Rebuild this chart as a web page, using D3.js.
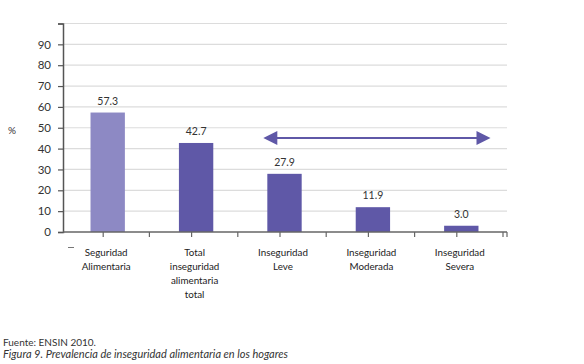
<!DOCTYPE html>
<html><head><meta charset="utf-8">
<script src="https://cdn.jsdelivr.net/npm/d3@7"></script>
<style>body{margin:0;background:#fff}svg{display:block}text{font-family:Lato,"Noto Sans",sans-serif}</style>
</head><body><svg id="c" width="584" height="364"></svg>
<script>
const categories = ["Seguridad Alimentaria", "Total inseguridad alimentaria total", "Inseguridad Leve", "Inseguridad Moderada", "Inseguridad Severa"];
const labelLines = [["Seguridad","Alimentaria"],["Total","inseguridad","alimentaria","total"],["Inseguridad","Leve"],["Inseguridad","Moderada"],["Inseguridad","Severa"]];
const values = [57.3, 42.7, 27.9, 11.9, 3.0];
const valueLabels = ["57.3","42.7","27.9","11.9","3.0"];
const yTicks = [0,10,20,30,40,50,60,70,80,90];
const arrowSpan = ["Inseguridad Leve", "Inseguridad Severa"];

const svg = d3.select("#c");
const x = d3.scaleBand().domain(categories).range([63, 505]).paddingInner(0.6).paddingOuter(0.3);
const y = d3.scaleLinear().domain([0, 100]).range([232, 23.5]);
const colors = ["#8d89c4", "#5f58a7", "#5f58a7", "#5f58a7", "#5f58a7"];

// gridlines
svg.append("g").selectAll("line").data(yTicks.slice(1).concat([100])).join("line")
  .attr("x1", 63).attr("x2", 507).attr("y1", d => y(d)).attr("y2", d => y(d))
  .attr("stroke", "#dcdcdc").attr("stroke-width", 1.2);

// y axis
const yAxis = svg.append("g").attr("transform", "translate(63,0)")
  .call(d3.axisLeft(y).tickValues(yTicks.concat([100])).tickSize(5).tickFormat(d => d === 100 ? "" : d));
yAxis.select(".domain").attr("stroke", "#555").attr("stroke-width", 1.5);
yAxis.selectAll(".tick line").attr("stroke", "#555").attr("stroke-width", 1.2);
yAxis.selectAll("text").attr("font-size", 11.5).attr("fill", "#333").attr("dx", "-4");

// bars
svg.append("g").selectAll("rect").data(values).join("rect")
  .attr("x", (d, i) => x(categories[i]) + 1).attr("width", x.bandwidth() - 1)
  .attr("y", d => y(d)).attr("height", d => y(0) - y(d))
  .attr("fill", (d, i) => colors[i]);

// value labels
svg.append("g").selectAll("text").data(values).join("text")
  .attr("x", (d, i) => x(categories[i]) + x.bandwidth() / 2 + 0.5).attr("y", d => y(d) - 8)
  .attr("text-anchor", "middle").attr("font-size", 10.5).attr("fill", "#333")
  .text((d, i) => valueLabels[i]);

// x axis
const xa = svg.append("g");
xa.append("line").attr("x1", 63).attr("x2", 507).attr("y1", y(0)).attr("y2", y(0))
  .attr("stroke", "#666").attr("stroke-width", 1.5);
const step = x.step();
const tickXs = [];
categories.forEach((c, i) => { tickXs.push(x(c) + x.bandwidth()/2 - 4); tickXs.push(x(c) - (step - x.bandwidth())/2 + step - 2); });
xa.selectAll(".xt").data(tickXs.concat([507])).join("line").attr("class","xt")
  .attr("x1", d => d).attr("x2", d => d).attr("y1", y(0)).attr("y2", y(0) + 5)
  .attr("stroke", "#666").attr("stroke-width", 1.2);

// category labels
const lab = svg.append("g");
labelLines.forEach((lines, i) => {
  const cx = x(categories[i]) + x.bandwidth() / 2 - 1;
  const t = lab.append("text").attr("text-anchor", "middle").attr("font-size", 9.8).attr("fill", "#222")
    .attr("x", cx).attr("y", 256);
  lines.forEach((l, j) => t.append("tspan").attr("x", cx).attr("dy", j ? 14 : 0).text(l));
});
svg.append("line").attr("x1", 68).attr("x2", 74).attr("y1", 247.5).attr("y2", 247.5).attr("stroke", "#777").attr("stroke-width", 1);

// % label
svg.append("text").attr("x", 8).attr("y", 134).attr("font-size", 10).attr("fill", "#333").text("%");

// arrow
const ax1 = x(arrowSpan[0]) - 3, ax2 = x(arrowSpan[1]) + x.bandwidth() + 12, ay = 138;
const ac = "#5f58a7";
svg.append("line").attr("x1", ax1 + 10).attr("x2", ax2 - 10).attr("y1", ay).attr("y2", ay).attr("stroke", ac).attr("stroke-width", 2.2);
svg.append("path").attr("d", `M${ax1},${ay} L${ax1+14},${ay-7} L${ax1+14},${ay+7} Z`).attr("fill", ac);
svg.append("path").attr("d", `M${ax2},${ay} L${ax2-14},${ay-7} L${ax2-14},${ay+7} Z`).attr("fill", ac);

// footer
svg.append("text").attr("x", 3).attr("y", 346).attr("font-size", 10).attr("fill", "#333").text("Fuente: ENSIN 2010.");
svg.append("text").attr("x", 3).attr("y", 358).attr("font-size", 11).attr("font-style", "italic").attr("fill", "#333").text("Figura 9. Prevalencia de inseguridad alimentaria en los hogares");
</script></body></html>
